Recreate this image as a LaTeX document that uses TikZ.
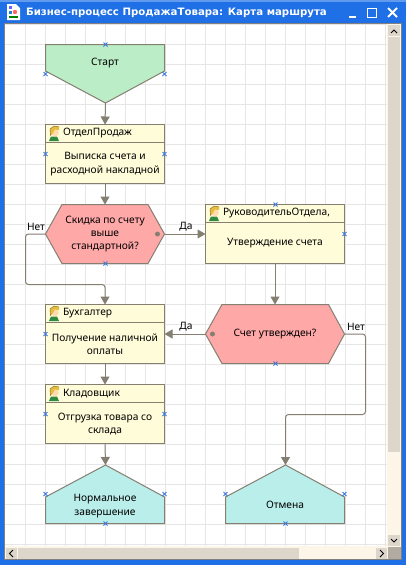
\documentclass[tikz,border=0pt]{standalone}
\usepackage{fontspec}
\setmainfont{Noto Sans}
\newfontfamily\titlefont{DejaVu Sans}
\usetikzlibrary{arrows.meta,calc}

\definecolor{winblue}{HTML}{1F6FE6}
\definecolor{gridc}{HTML}{E6E6E6}
\definecolor{linec}{HTML}{857F72}
\definecolor{startc}{HTML}{BBEDC6}
\definecolor{taskc}{HTML}{FFFCD9}
\definecolor{condc}{HTML}{FFA8A8}
\definecolor{endc}{HTML}{BAEEEA}
\definecolor{markc}{HTML}{3C78E0}
\definecolor{barc}{HTML}{FDF5E8}
\definecolor{thumbc}{HTML}{DDD6CB}
\definecolor{hairc}{HTML}{E6BE3C}
\definecolor{skinc}{HTML}{FFDCB0}
\definecolor{shirtc}{HTML}{2F8A3E}

\newcommand*{\xmin}{5}
\newcommand*{\xmax}{387}
\newcommand*{\ymin}{24}
\newcommand*{\ymax}{546}

% person icon at the left of a task header
\newcommand*{\person}[2]{
	\fill[shirtc] (#1+1,#2+15) -- (#1+3,#2+10.5) -- (#1+9,#2+10.5) -- (#1+11,#2+15) -- cycle;
	\fill[skinc] (#1+7,#2+6.5) circle (3.8);
	\fill[hairc] (#1+2.5,#2+10) -- (#1+2,#2+3) -- (#1+6,#2) -- (#1+11,#2+1) -- (#1+11,#2+4) -- (#1+7,#2+3.5) -- (#1+5,#2+7) -- cycle;
	\draw[brown!70!black,line width=0.4pt] (#1+2.5,#2+10) -- (#1+2,#2+3) -- (#1+6,#2) -- (#1+11,#2+1);
}
% blue cross of a free connection point
\newcommand*{\cross}[1]{
	\draw[markc,line width=0.8pt] ($(#1)+(-2,-2)$) -- ($(#1)+(2,2)$) ($(#1)+(-2,2)$) -- ($(#1)+(2,-2)$);
}

\begin{document}
\begin{tikzpicture}
[
	x=1pt,y=-1pt,
	shapeline/.style={draw=linec,line width=1pt},
	taskbox/.style={shapeline,fill=taskc,minimum width=119pt,minimum height=59pt,inner sep=0pt,outer sep=0pt},
	flow/.style={draw=linec,line width=1pt,-{Triangle[width=9pt,length=8pt]}},
	elbow/.style={flow,rounded corners=3pt},
	txt/.style={font=\fontsize{10.2}{13.4}\selectfont,align=center,inner sep=0pt,outer sep=0pt},
	region/.style={txt,minimum width=119pt,minimum height=59pt},
	headtxt/.style={txt,anchor=west},
	pt/.style={circle,fill=linec,inner sep=0pt,minimum size=5pt},
	wbtn/.style={draw=white,line width=1.8pt}
]

	\useasboundingbox (0,0) rectangle (406,565);

	% window
	\fill[winblue] (0,0) rectangle (406,565);
	\fill[winblue!70!white] (0,0) rectangle (406,1.5);
	\fill[gray] (4,23) rectangle (402,560);
	\fill[barc] (5,24) rectangle (401,559);
	\fill[white] (\xmin,\ymin) rectangle (\xmax,\ymax);

	% grid
	\foreach \i in {0,...,18}
		\draw[gridc,line width=1pt] (25.5+20*\i,\ymin) -- (25.5+20*\i,\ymax);
	\foreach \i in {0,...,26}
		\draw[gridc,line width=1pt] (\xmin,24.5+20*\i) -- (\xmax,24.5+20*\i);

	% title bar
	\node[headtxt,text=white,font=\titlefont\fontsize{10.2}{13}\bfseries\selectfont] (title) at (26,13) {Бизнес-процесс ПродажаТовара: Карта маршрута};
	\fill[white] (7,4) -- (16,4) -- (20,8) -- (20,20) -- (7,20) -- cycle;
	\fill[red!60!white] (15,12) circle (2.2);
	\fill[blue!60!white] (9,6) rectangle (12,9);
	\fill[cyan!70!blue] (9,11) rectangle (12,14);
	\fill[green!50!black] (9,16) rectangle (18,18);
	\draw[wbtn] (349,17) -- (356,17);
	\draw[wbtn] (367.5,8.5) rectangle (376.5,17.5);
	\draw[wbtn] (388,8) -- (397,17) (388,17) -- (397,8);

	% scroll bars
	\fill[thumbc] (388,37) rectangle (400,452);
	\fill[thumbc] (388,25) rectangle (400,36);
	\fill[thumbc] (388,535) rectangle (400,546);
	\fill[thumbc] (6,548) rectangle (17,559);
	\fill[thumbc] (18,548) rectangle (299,559);
	\fill[thumbc] (376,548) rectangle (387,559);
	\fill[thumbc!80!black] (388,547) rectangle (401,559);
	\draw[black,line width=0.9pt] (391,33) -- (394,30) -- (397,33);
	\draw[black,line width=0.9pt] (391,539) -- (394,542) -- (397,539);
	\draw[black,line width=0.9pt] (13,550) -- (9.5,553.5) -- (13,557);
	\draw[black,line width=0.9pt] (380,550) -- (383.5,553.5) -- (380,557);

	% shapes
	\draw[shapeline,fill=startc] (45.5,44.5) -- (164.5,44.5) -- (164.5,71) -- (105.5,103) -- (45.5,71) -- cycle;
	\node[txt] (start) at (105,63) {Старт};
	\coordinate (starttip) at (105.5,103);

	\node[taskbox] (otdel) at (105,154) {};
	\node[taskbox,minimum width=139pt] (ruk) at (275,234) {};
	\node[taskbox] (buh) at (105,334) {};
	\node[taskbox] (klad) at (105,414) {};

	\draw[shapeline] (otdel.west |- 0,142.5) -- (otdel.east |- 0,142.5);
	\draw[shapeline] (ruk.west |- 0,222.5) -- (ruk.east |- 0,222.5);
	\draw[shapeline] (buh.west |- 0,322.5) -- (buh.east |- 0,322.5);
	\draw[shapeline] (klad.west |- 0,402.5) -- (klad.east |- 0,402.5);

	\node[headtxt] (otdelh) at (63,133.5) {ОтделПродаж};
	\node[headtxt] (rukh) at (223,213.5) {РуководительОтдела,};
	\node[headtxt] (buhh) at (63,313.5) {Бухгалтер};
	\node[headtxt] (kladh) at (63,393.5) {Кладовщик};

	\person{48}{126}
	\person{208}{206}
	\person{48}{306}
	\person{48}{386}

	\node[txt] (otdelt) at (105,164) {Выписка счета и\\расходной накладной};
	\node[txt] (rukt) at (275,243.5) {Утверждение счета};
	\node[txt] (buht) at (105,344) {Получение наличной\\оплаты};
	\node[txt] (kladt) at (105,424) {Отгрузка товара со\\склада};

	\draw[shapeline,fill=condc] (45.5,234) -- (62,204.5) -- (148,204.5) -- (164.5,234) -- (148,263.5) -- (62,263.5) -- cycle;
	\node[region] (skidka) at (105,234) {Скидка по счету\\выше\\стандартной?};
	\draw[shapeline,fill=condc] (205.5,334) -- (222,304.5) -- (328.5,304.5) -- (344.5,334) -- (328.5,363.5) -- (222,363.5) -- cycle;
	\node[region,minimum width=139pt] (utv) at (275,334) {Счет утвержден?};
	\node[pt] (skidkapt) at (157.5,234) {};
	\node[pt] (utvpt) at (212.5,334) {};

	\draw[shapeline,fill=endc] (45.5,497) -- (105.5,465) -- (164.5,497) -- (164.5,523.5) -- (45.5,523.5) -- cycle;
	\coordinate (normtip) at (105.5,465);
	\node[txt] (norm) at (105,506) {Нормальное\\завершение};
	\draw[shapeline,fill=endc] (225.5,497) -- (285.5,465) -- (344.5,497) -- (344.5,523.5) -- (225.5,523.5) -- cycle;
	\coordinate (canceltip) at (285.5,465);
	\node[txt] (cancel) at (285,505) {Отмена};

	% connectors
	\draw[flow] (starttip) -- (otdel.north);
	\draw[flow] (otdel.south) -- (skidka.north);
	\draw[flow] (skidka.east) -- (ruk.west);
	\draw[flow] (ruk.south) -- (utv.north);
	\draw[flow] (utv.west) -- (buh.east);
	\draw[flow] (buh.south) -- (klad.north);
	\draw[flow] (klad.south) -- (normtip);
	\coordinate (netl) at (25.5,284.5);
	\coordinate (netr) at (365.5,414.5);
	\draw[elbow] (skidka.west) -| (netl) -| (buh.north);
	\draw[elbow] (utv.east) -| (netr) -| (canceltip);

	\node[txt] (da1) at (186,227) {Да};
	\node[txt] (da2) at (186,327) {Да};
	\node[txt] (net1) at (36,227) {Нет};
	\node[txt] (net2) at (356,327) {Нет};

	% free points
	\foreach \a/\b in {105.5/44.5,45.5/74,164.5/74,45.5/154,164.5/154,105.5/263.5,275.5/204.5,344.5/234,275.5/363.5,45.5/334,45.5/414,164.5/414,45.5/494,164.5/494,105.5/523.5,225.5/494,344.5/494,285.5/523.5}
	{
		\coordinate (m) at (\a,\b);
		\cross{m}
	}

\end{tikzpicture}
\end{document}
